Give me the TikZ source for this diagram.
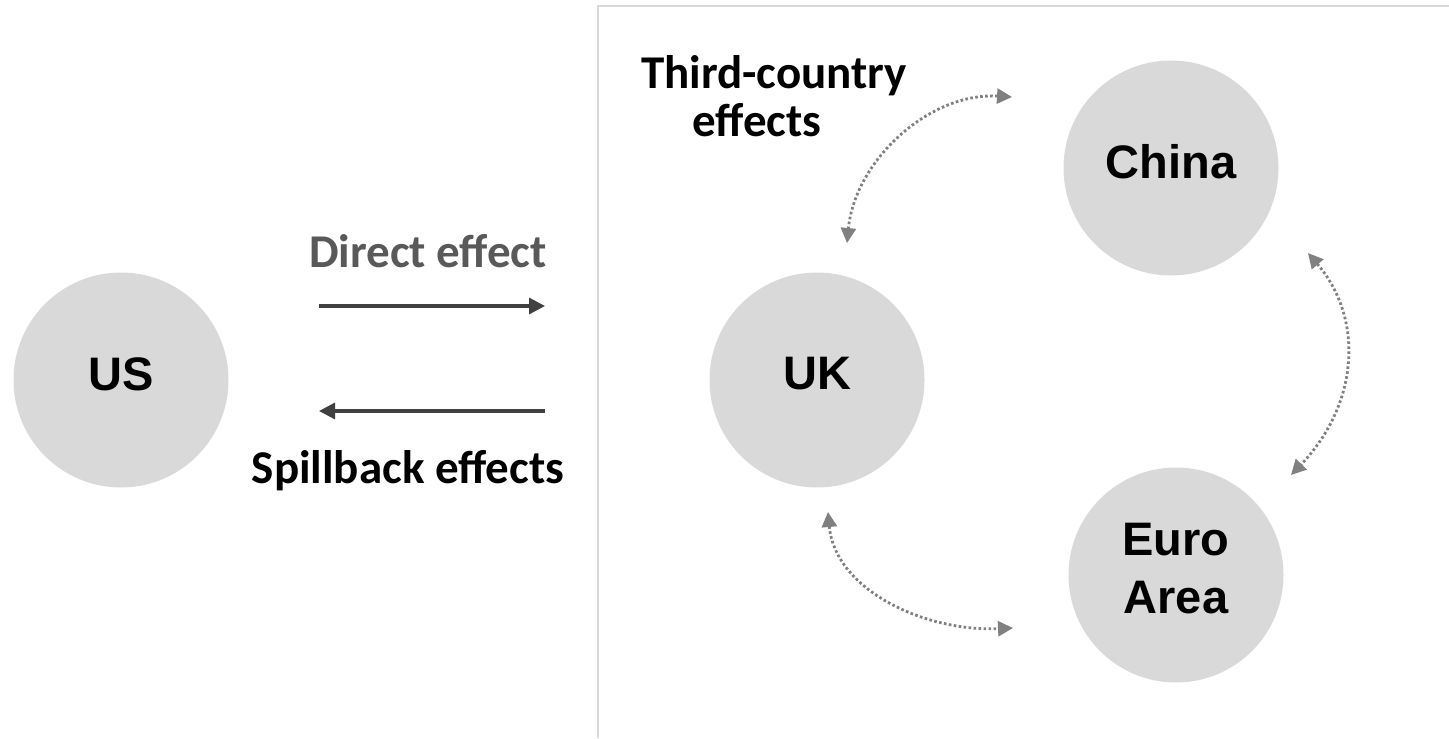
\documentclass[tikz,border=0pt]{standalone}
\usepackage{fontspec}
\newfontfamily\effectfont{Carlito}
\newfontfamily\countryfont{Liberation Sans}
\usetikzlibrary{arrows.meta}
\definecolor{circlegray}{HTML}{D9D9D9}
\definecolor{framegray}{HTML}{D9D9D9}
\definecolor{darkarrow}{HTML}{404040}
\definecolor{dotgray}{HTML}{808080}
\definecolor{textgray}{HTML}{595959}
\tikzset{
  country/.style = {circle, fill=circlegray, minimum size=107.5pt, inner sep=0pt},
  cname/.style   = {font=\countryfont\bfseries\fontsize{23.5}{29}\selectfont, align=center, inner sep=0pt, yshift=3pt},
  effect/.style  = {font=\effectfont\bfseries\fontsize{23.5}{24}\selectfont, inner sep=0pt},
  flow/.style    = {-{Triangle[length=8pt, width=8pt]}, line width=1.6pt, darkarrow},
  spill/.style   = {{Triangle[length=7.5pt, width=7.5pt]}-{Triangle[length=7.5pt, width=7.5pt]},
                    line width=1.4pt, dotgray, dash pattern=on 1.3pt off 1.2pt},
}

\begin{document}
\begin{tikzpicture}[x=0.5pt, y=-0.5pt]
  \useasboundingbox (0,0) rectangle (1449,738);
  % frame round the other economies
  \draw[framegray, line width=1pt] (598,738) -- (598,6) -- (1449,6);
  \node[country, label={[cname]center:US}] (us) at (121,380) {};
  \node[country, label={[cname]center:UK}] (uk) at (817,380) {};
  \node[country, label={[cname]center:China}] (cn) at (1171,168) {};
  \node[country, label={[cname]center:{Euro\\Area}}] (ea) at (1176,575) {};

  % direct and spillback effects
  \coordinate (de1) at (319,306);
  \coordinate (de2) at (545,306);
  \coordinate (sb1) at (545,411);
  \coordinate (sb2) at (319,411);
  \draw[flow] (de1) -- (de2);
  \draw[flow] (sb1) -- (sb2);
  \node[effect, textgray, anchor=base] (direct) at (428,267) {Direct effect};
  \node[effect, anchor=base] (spillback) at (408,483) {Spillback effects};

  % third-country effects
  \node[effect, align=center, anchor=north] (third) at (774,55) {Third-country\\effects\kern17pt};
  \coordinate (ukcn1) at (1012,97);
  \coordinate (ukcn2) at (847,243);
  \coordinate (cnea1) at (1308,253);
  \coordinate (cnea2) at (1291,475);
  \coordinate (ukea1) at (828,512);
  \coordinate (ukea2) at (1013,628);
  \draw[spill] (ukcn1) .. controls (930,92) and (855,160) .. (ukcn2);
  \draw[spill] (cnea1) .. controls (1365,320) and (1358,405) .. (cnea2);
  \draw[spill] (ukea1) .. controls (835,590) and (925,632) .. (ukea2);
\end{tikzpicture}
\end{document}
